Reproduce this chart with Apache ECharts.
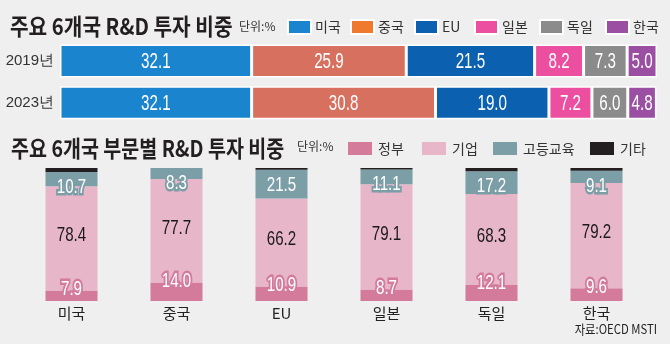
<!DOCTYPE html>
<html>
<head>
<meta charset="utf-8">
<script src="https://cdn.jsdelivr.net/npm/echarts@6/dist/echarts.min.js"></script>
<style>
  html, body { margin: 0; padding: 0; background: #efefef; }
  #chart { width: 670px; height: 344px; }
</style>
</head>
<body>
<div id="chart"></div>
<script>
// Country shares of R&D investment (%)
const years = ['2019년', '2023년'];
const countries = ['미국', '중국', 'EU', '일본', '독일', '한국'];
const share2019 = [32.1, 25.9, 21.5, 8.2, 7.3, 5.0];
const share2023 = [32.1, 30.8, 19.0, 7.2, 6.0, 4.8];

// R&D investment by sector within each country (%)
const sectors = ['정부', '기업', '고등교육', '기타'];
const govShare = [7.9, 14.0, 10.9, 8.7, 12.1, 9.6];
const bizShare = [78.4, 77.7, 66.2, 79.1, 68.3, 79.2];
const eduShare = [10.7, 8.3, 21.5, 11.1, 17.2, 9.1];
const otherShare = [3.0, 0, 1.4, 1.1, 2.4, 2.1];

const countryColors = ['#1b84cf', '#d8705f', '#0c60b0', '#ec4f9f', '#8b8b8b', '#9a4fa3'];
const countryLegendColors = ['#1b84cf', '#ef7a2e', '#0c60b0', '#ec4f9f', '#8b8b8b', '#9a4fa3'];
const sectorColors = ['#d47b9c', '#e7b6c8', '#7c9ea7', '#231f20'];

const numFont = "'Liberation Sans', Arial, sans-serif";
const krFont = "'Noto Sans CJK KR', sans-serif";

const chart = echarts.init(document.getElementById('chart'));

// stacked horizontal bars: one series per country
const topSeries = countries.map((name, i) => ({
  name,
  type: 'bar',
  stack: 'country',
  xAxisIndex: 0,
  yAxisIndex: 0,
  barWidth: 33,
  data: [share2019[i], share2023[i]],
  itemStyle: { color: countryColors[i], borderColor: '#ffffff', borderWidth: 1.5 }
}));

// value labels for the horizontal bars, placed at each segment's centre
const topLabelData = [];
[share2019, share2023].forEach((row, r) => {
  let start = 0;
  row.forEach(v => {
    topLabelData.push([start + v / 2, r, v]);
    start += v;
  });
});

const topLabels = {
  type: 'custom',
  xAxisIndex: 0,
  yAxisIndex: 0,
  z: 10,
  silent: true,
  clip: false,
  data: topLabelData,
  encode: { x: 0, y: 1 },
  renderItem: (params, api) => {
    const pt = api.coord([api.value(0), api.value(1)]);
    return {
      type: 'text',
      x: pt[0],
      y: pt[1] + 1,
      scaleX: 0.69,
      style: {
        text: api.value(2).toFixed(1),
        fill: '#ffffff',
        fontSize: 22,
        fontFamily: numFont,
        align: 'center',
        verticalAlign: 'middle'
      }
    };
  }
};

// stacked vertical bars: one series per sector
const sectorData = [govShare, bizShare, eduShare, otherShare];
const bottomSeries = sectors.map((name, i) => ({
  name,
  type: 'bar',
  stack: 'sector',
  xAxisIndex: 1,
  yAxisIndex: 1,
  barWidth: 52,
  data: sectorData[i],
  itemStyle: { color: sectorColors[i] }
}));

// sector labels: [category, anchor value, shown value, kind]
const bottomLabelData = [];
countries.forEach((c, j) => {
  const g = govShare[j], b = bizShare[j], e = eduShare[j];
  bottomLabelData.push([j, g, g, 0]);
  bottomLabelData.push([j, g + b / 2, b, 1]);
  bottomLabelData.push([j, g + b + e, e, 2]);
});

const bottomLabels = {
  type: 'custom',
  xAxisIndex: 1,
  yAxisIndex: 1,
  z: 10,
  silent: true,
  clip: false,
  data: bottomLabelData,
  encode: { x: 0, y: 1 },
  renderItem: (params, api) => {
    const kind = api.value(3);
    const pt = api.coord([api.value(0), api.value(1)]);
    const dy = kind === 0 ? -1.5 : (kind === 1 ? -3 : 15);
    const style = {
      text: api.value(2).toFixed(1),
      fontSize: 21,
      fontFamily: numFont,
      align: 'center',
      verticalAlign: 'middle',
      fill: kind === 1 ? '#1a1a1a' : '#ffffff'
    };
    if (kind !== 1) {
      style.stroke = kind === 0 ? sectorColors[0] : sectorColors[2];
      style.lineWidth = 5;
      style.strokeFirst = true;
    }
    return { type: 'text', x: pt[0], y: pt[1] + dy, scaleX: 0.72, style };
  }
};

// one legend per item so each key sits at its own spot
const topLegendX = [287, 350, 414, 474, 539, 605];
const bottomLegendX = [348, 422, 493, 590];
const legends = countries.map((n, i) => ({
  left: topLegendX[i], top: 19, padding: 0,
  itemWidth: 23, itemHeight: 14, icon: 'rect', itemGap: 0,
  textStyle: { fontFamily: krFont, fontSize: 14, color: '#333', padding: [0, 0, 0, -1] },
  data: [{ name: n, itemStyle: { color: countryLegendColors[i] } }]
})).concat(sectors.map((n, i) => ({
  left: bottomLegendX[i], top: 141.5, padding: 0,
  itemWidth: 24, itemHeight: 13, icon: 'rect', itemGap: 0,
  textStyle: { fontFamily: krFont, fontSize: 14, color: '#333', padding: [0, 0, 0, 1] },
  data: [{ name: n, itemStyle: { color: sectorColors[i] } }]
})));

chart.setOption({
  backgroundColor: '#efefef',
  animation: false,
  graphic: [
    { type: 'text', x: 10, y: 26, scaleX: 0.88,
      style: { text: '주요 6개국 R&D 투자 비중', fontFamily: krFont, fontSize: 23, fontWeight: 'bold',
               fill: '#231f20', verticalAlign: 'middle' } },
    { type: 'text', x: 239, y: 26,
      style: { text: '단위:%', fontFamily: krFont, fontSize: 12, fill: '#333', verticalAlign: 'middle' } },
    { type: 'text', x: 11, y: 148, scaleX: 0.85,
      style: { text: '주요 6개국 부문별 R&D 투자 비중', fontFamily: krFont, fontSize: 23, fontWeight: 'bold',
               fill: '#231f20', verticalAlign: 'middle' } },
    { type: 'text', x: 297, y: 146,
      style: { text: '단위:%', fontFamily: krFont, fontSize: 12, fill: '#333', verticalAlign: 'middle' } },
    { type: 'text', x: 657, y: 329, scaleX: 0.87,
      style: { text: '자료:OECD MSTI', fontFamily: krFont, fontSize: 13, fill: '#222',
               align: 'right', verticalAlign: 'middle' } }
  ],
  legend: legends,
  grid: [
    { left: 60, right: 13, top: 40.2, height: 83.4 },
    { left: 19, right: 21, top: 168, height: 133 }
  ],
  xAxis: [
    { type: 'value', gridIndex: 0, min: 0, max: 100, show: false },
    { type: 'category', gridIndex: 1, data: countries,
      axisLine: { show: false }, axisTick: { show: false },
      axisLabel: { fontFamily: krFont, fontSize: 15, color: '#222', margin: 5 } }
  ],
  yAxis: [
    { type: 'category', gridIndex: 0, data: years, inverse: true,
      axisLine: { show: false }, axisTick: { show: false },
      axisLabel: { fontFamily: numFont, fontSize: 15, color: '#333', margin: 6 } },
    { type: 'value', gridIndex: 1, min: 0, max: 100, show: false }
  ],
  series: topSeries.concat(bottomSeries, [topLabels, bottomLabels])
});
</script>
</body>
</html>
